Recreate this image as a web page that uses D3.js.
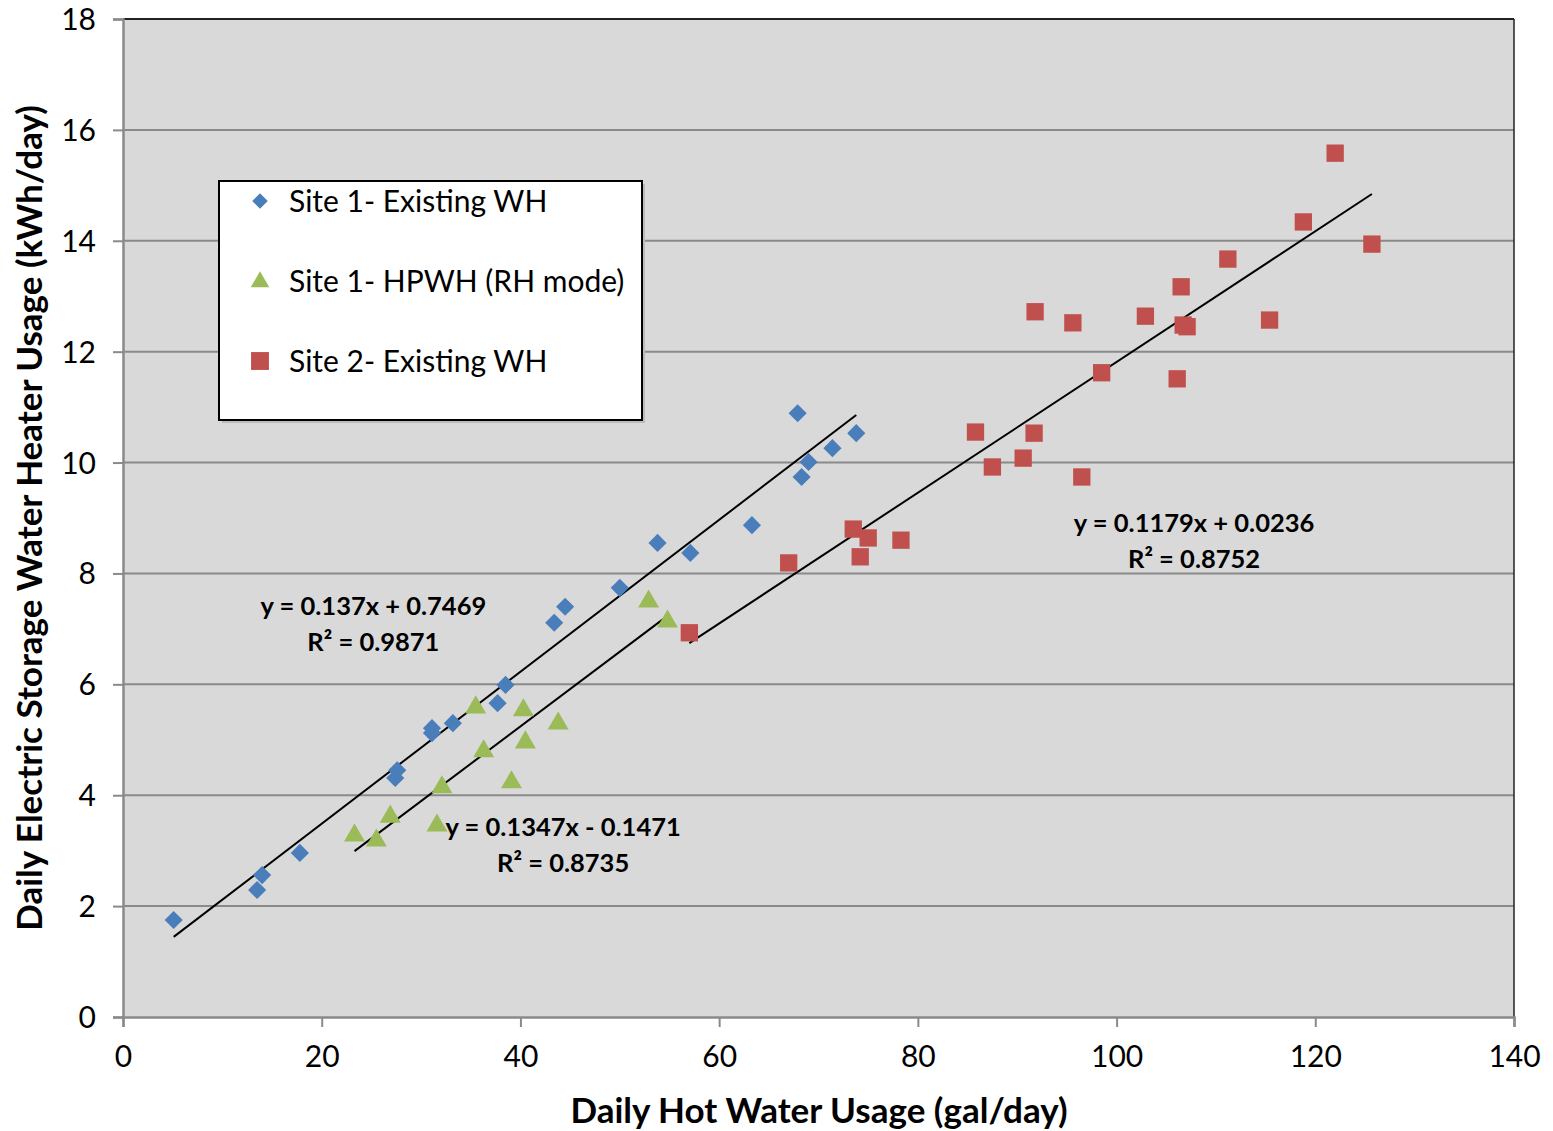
<!DOCTYPE html>
<html><head><meta charset="utf-8">
<script src="https://cdn.jsdelivr.net/npm/d3@7"></script>
<style>body{margin:0;background:#fff}</style>
</head><body>
<svg id="chart" width="1553" height="1131"></svg>
<script>
const xTicks = [0,20,40,60,80,100,120,140];
const yTicks = [0,2,4,6,8,10,12,14,16,18];

const site1Existing = [
  [5.1,1.75],[13.5,2.29],[14.0,2.56],[17.8,2.96],[27.4,4.31],[27.6,4.45],
  [31.1,5.12],[31.1,5.21],[33.2,5.30],[37.7,5.66],[38.5,5.99],[43.4,7.11],
  [44.5,7.40],[50.0,7.74],[53.8,8.55],[57.1,8.37],[63.3,8.87],[67.9,10.89],
  [68.3,9.74],[69.0,10.01],[71.4,10.26],[73.8,10.53]
];
const site1HPWH = [
  [23.3,3.30],[25.5,3.21],[26.9,3.64],[31.6,3.48],[32.1,4.17],[35.5,5.61],
  [36.3,4.82],[39.1,4.26],[40.3,5.56],[40.5,4.98],[43.8,5.32],[52.9,7.52],[54.8,7.16]
];
const site2Existing = [
  [57.0,6.93],[67.0,8.19],[73.5,8.80],[74.2,8.30],[75.0,8.64],[78.3,8.60],
  [85.8,10.55],[87.5,9.92],[90.6,10.08],[91.7,10.53],[91.8,12.72],[95.6,12.52],
  [96.5,9.74],[98.5,11.62],[102.9,12.64],[106.1,11.51],[106.5,13.17],[106.7,12.48],
  [107.1,12.45],[111.2,13.67],[115.4,12.57],[118.8,14.34],[122.0,15.58],[125.7,13.94]
];
const seriesNames = ["Site 1- Existing WH","Site 1- HPWH (RH mode)","Site 2- Existing WH"];
const trendSlopes = [0.137, 0.1347, 0.1179];
const trendIntercepts = [0.7469, -0.1471, 0.0236];
const trendRanges = [[5.1,73.8],[23.3,54.9],[57.0,125.7]];
const trendEq = ["y = 0.137x + 0.7469","y = 0.1347x - 0.1471","y = 0.1179x + 0.0236"];
const trendR2 = ["R² = 0.9871","R² = 0.8735","R² = 0.8752"];
const trendLabelPos = [[25.2,7.42],[44.3,3.42],[107.8,8.9]];

const svg = d3.select("#chart");
const L=123, R=1514, T=19, B=1017;
const x = d3.scaleLinear().domain([0,140]).range([L,R]);
const y = d3.scaleLinear().domain([0,18]).range([B,T]);
const font = "Lato, 'Open Sans', sans-serif";
const colors = ["#4a7ebb","#9bbb59","#c0504d"];

svg.append("rect").attr("x",L).attr("y",T).attr("width",R-L).attr("height",B-T).attr("fill","#d9d9d9");

svg.append("g").selectAll("line").data(yTicks.filter(d=>d>0)).join("line")
  .attr("x1",L).attr("x2",R).attr("y1",d=>y(d)).attr("y2",d=>y(d))
  .attr("stroke",d=>d===18?"#222":"#8a8a8a").attr("stroke-width",2);
svg.append("line").attr("x1",R).attr("x2",R).attr("y1",T).attr("y2",B).attr("stroke","#222").attr("stroke-width",1.5);

const yAxis = d3.axisLeft(y).tickValues(yTicks).tickSize(10).tickPadding(17);
const gy = svg.append("g").attr("transform",`translate(${L},0)`).call(yAxis);
const xAxis = d3.axisBottom(x).tickValues(xTicks).tickSize(10).tickPadding(19);
const gx = svg.append("g").attr("transform",`translate(0,${B})`).call(xAxis);
[gx,gy].forEach(g=>{
  g.select(".domain").attr("stroke","#8a8a8a").attr("stroke-width",2.5);
  g.selectAll(".tick line").attr("stroke","#8a8a8a").attr("stroke-width",2);
  g.selectAll(".tick text").attr("font-family",font).attr("font-size",30).attr("fill","#000");
});
gy.selectAll(".tick text").attr("dy","0.35em");

trendSlopes.forEach((m,i)=>{
  const [a,b]=trendRanges[i];
  svg.append("line").attr("x1",x(a)).attr("y1",y(m*a+trendIntercepts[i]))
    .attr("x2",x(b)).attr("y2",y(m*b+trendIntercepts[i]))
    .attr("stroke","#000").attr("stroke-width",2);
});

const diamond = d3.symbol().type(d3.symbolSquare).size(165);
const tri = d3.symbol().type(d3.symbolTriangle).size(190);
const sq = d3.symbol().type(d3.symbolSquare).size(300);
svg.append("g").selectAll("path").data(site1Existing).join("path")
  .attr("d",diamond).attr("transform",d=>`translate(${x(d[0])},${y(d[1])}) rotate(45)`).attr("fill",colors[0]);
svg.append("g").selectAll("path").data(site1HPWH).join("path")
  .attr("d",tri).attr("transform",d=>`translate(${x(d[0])},${y(d[1])+1.5})`).attr("fill",colors[1]);
svg.append("g").selectAll("path").data(site2Existing).join("path")
  .attr("d",sq).attr("transform",d=>`translate(${x(d[0])},${y(d[1])})`).attr("fill",colors[2]);

trendEq.forEach((t,i)=>{
  const [lx,ly]=trendLabelPos[i];
  const g = svg.append("g").attr("font-family",font).attr("font-weight","bold").attr("font-size",25.5).attr("text-anchor","middle");
  g.append("text").attr("x",x(lx)).attr("y",y(ly)).attr("dy","0.35em").text(t);
  g.append("text").attr("x",x(lx)).attr("y",y(ly)+36).attr("dy","0.35em").text(trendR2[i]);
});

const lg = svg.append("g");
lg.append("rect").attr("x",222).attr("y",184).attr("width",423).attr("height",239).attr("fill","#bbb");
lg.append("rect").attr("x",219).attr("y",181).attr("width",423).attr("height",239).attr("fill","#fff").attr("stroke","#000").attr("stroke-width",2);
const legSyms = [d3.symbol().type(d3.symbolSquare).size(120), d3.symbol().type(d3.symbolTriangle).size(150), d3.symbol().type(d3.symbolSquare).size(320)];
seriesNames.forEach((n,i)=>{
  const cy = 201 + i*80;
  lg.append("path").attr("d",legSyms[i]).attr("fill",colors[i])
    .attr("transform",`translate(260,${cy+(i===1?1:0)})${i===0?" rotate(45)":""}`);
  lg.append("text").attr("x",289).attr("y",cy).attr("dy","0.35em").attr("font-family",font).attr("font-size",30).text(n);
});

svg.append("text").attr("x",819).attr("y",1111).attr("dy","0.35em").attr("text-anchor","middle")
  .attr("font-family",font).attr("font-weight","bold").attr("font-size",35).text("Daily Hot Water Usage (gal/day)");
svg.append("text").attr("transform",`translate(30,${518}) rotate(-90)`).attr("dy","0.35em").attr("text-anchor","middle")
  .attr("font-family",font).attr("font-weight","bold").attr("font-size",35).text("Daily Electric Storage Water Heater Usage (kWh/day)");
</script>
</body></html>
